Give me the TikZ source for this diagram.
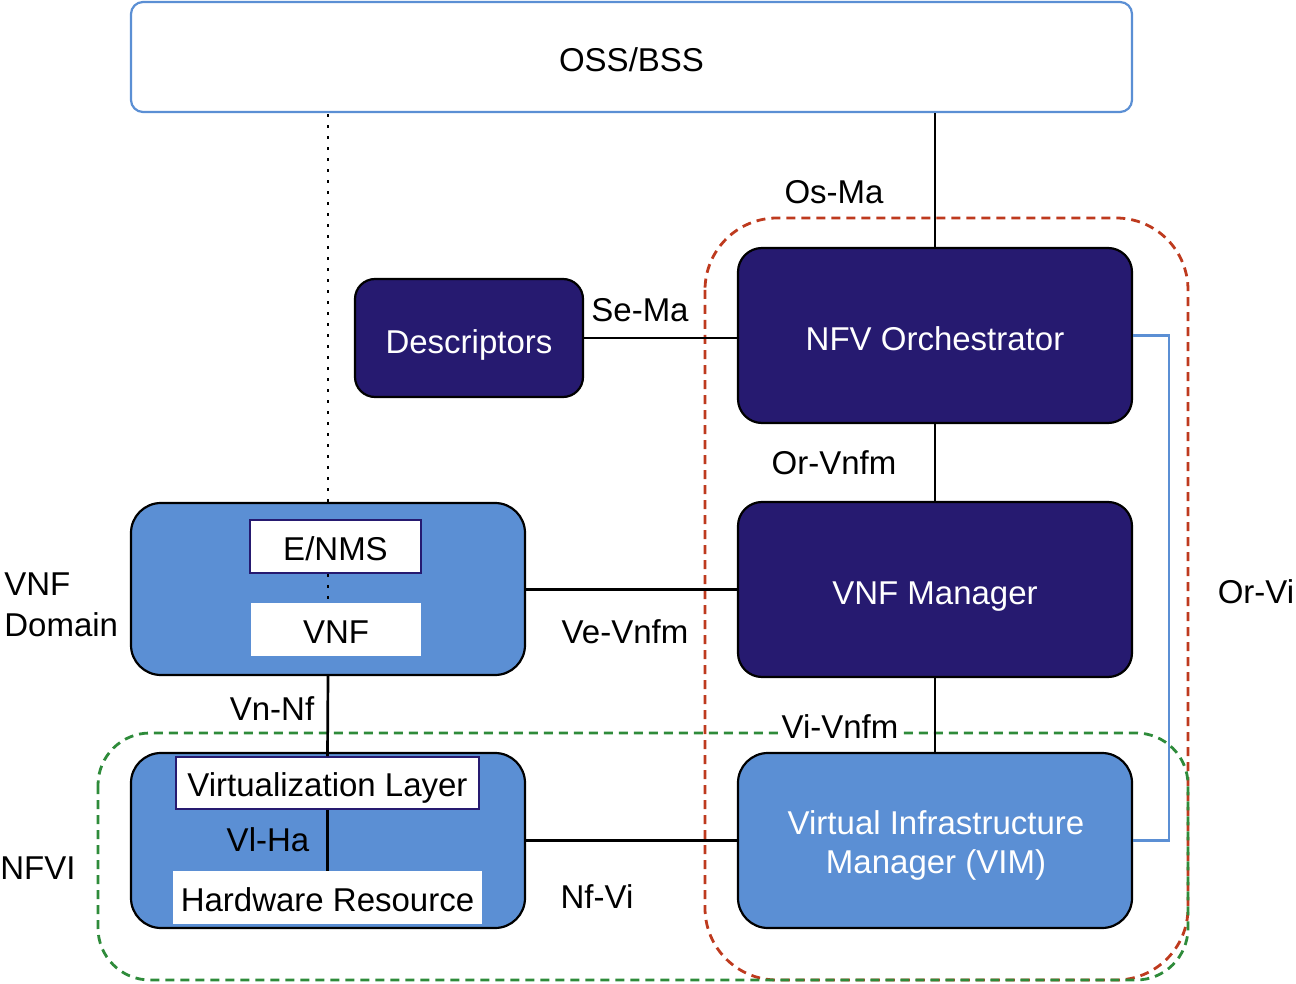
\documentclass[tikz,border=0pt]{standalone}
\usepackage{fontspec}
\setmainfont{Liberation Sans}
\definecolor{navy}{HTML}{261A70}
\definecolor{midblue}{HTML}{5B8FD4}
\definecolor{dred}{HTML}{BE3A1E}
\definecolor{dgreen}{HTML}{2E8B3A}
\begin{document}
\begin{tikzpicture}[x=0.5pt,y=-0.5pt,
  font=\fontsize{16.5}{20}\selectfont,
  box/.style={text height=15pt,text depth=0pt},
  dark/.style={box,draw=black,line width=1.1pt,fill=navy,text=white,rounded corners=12pt,minimum width=197pt,minimum height=87.5pt,inner sep=0pt},
  light/.style={draw=black,line width=1.1pt,fill=midblue,rounded corners=15pt,minimum width=197pt,inner sep=0pt},
  inner/.style={text height=13.5pt,text depth=0pt,fill=white,draw=navy,line width=0.9pt,inner sep=0pt},
  conn/.style={line width=1.35pt,black},
  lbl/.style={inner sep=1pt}]
\useasboundingbox (0,0) rectangle (1296,984);
% dashed regions
\draw[dred,line width=1.4pt,dash pattern=on 4.5pt off 3pt,rounded corners=36pt] (705,218) rectangle (1188,980);
\draw[dgreen,line width=1.4pt,dash pattern=on 4.5pt off 3pt,rounded corners=26pt] (98,733) rectangle (1188,980);
% nodes
\node[box,draw=midblue,line width=1.1pt,fill=white,rounded corners=6pt,minimum width=500.5pt,minimum height=55pt] (oss) at (631.5,57) {OSS/BSS};
\node[dark] (nfvo) at (935,335.5) {NFV Orchestrator};
\node[dark,minimum width=114pt,minimum height=59pt,rounded corners=10pt] (desc) at (469,338) {Descriptors};
\node[dark] (vnfm) at (935,589.5) {VNF Manager};
\node[light,minimum height=87.5pt] (vim) at (935,840.5) {};
\node[text=white,align=center,font=\fontsize{16.5}{19.5}\selectfont,inner sep=0pt] (vimtext) at (936,845) {Virtual Infrastructure\\Manager (VIM)};
\node[light,minimum height=86pt] (vnfd) at (328,589) {};
\node[light,minimum height=87.5pt] (nfvi) at (328,840.5) {};
\node[inner,minimum width=85.5pt,minimum height=26.5pt] (enms) at (335.5,546.5) {E/NMS};
\node[inner,draw=white,minimum width=84pt,minimum height=25.5pt] (vnf) at (336,629.5) {VNF};
\node[inner,minimum width=151.5pt,minimum height=26pt] (virt) at (327.5,783) {Virtualization Layer};
\node[inner,draw=white,minimum width=153.5pt,minimum height=25.5pt] (hw) at (327.5,897.5) {Hardware Resource};
% connectors
\draw[conn] (nfvo.north) -- (nfvo.north |- oss.south);
\draw[conn] (desc.east) -- (desc.east -| nfvo.west);
\draw[conn] (nfvo.south) -- (vnfm.north);
\draw[conn] (vnfm.south) -- (vim.north);
\draw[conn] (vnfd.east |- vnfm.west) -- (vnfm.west);
\draw[conn] (nfvi.east |- vim.west) -- (vim.west);
\draw[conn] (vnfd.south) -- (virt.north);
\draw[conn] (virt.south) -- (hw.north);
\draw[line width=1.4pt,dash pattern=on 1.3pt off 4.2pt] (vnfd.north) -- (vnfd.north |- oss.south);
\draw[line width=1.4pt,dash pattern=on 1.3pt off 4.2pt] (enms.south -| vnfd.north) -- (vnf.north -| vnfd.north);
\draw[midblue,line width=1.2pt] (nfvo.east) -- ++(36,0) coordinate (orvi) |- (vim.east);
% labels
\node[lbl] (l1) at (834,192) {Os-Ma};
\node[lbl] (l2) at (640,310) {Se-Ma};
\node[lbl] (l3) at (834,463) {Or-Vnfm};
\node[lbl] (l4) at (625,632) {Ve-Vnfm};
\node[lbl] (l5) at (272,709) {Vn-Nf};
\node[lbl,fill=white] (l6) at (840,727) {Vi-Vnfm};
\node[lbl] (l7) at (268,840) {Vl-Ha};
\node[lbl] (l8) at (597,897) {Nf-Vi};
\node[lbl] (l9) at (1256,592) {Or-Vi};
\node[lbl,anchor=west,align=left,font=\fontsize{16.5}{20.5}\selectfont] (l10) at (2,605) {VNF\\Domain};
\node[lbl] (l11) at (38,868) {NFVI};
\end{tikzpicture}
\end{document}
